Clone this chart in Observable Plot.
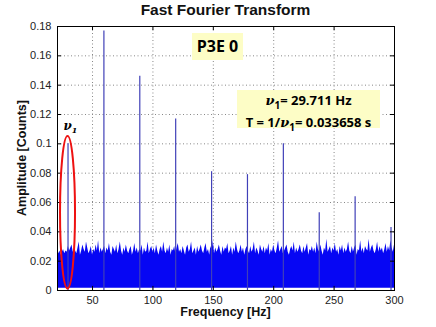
<!DOCTYPE html>
<html><head><meta charset="utf-8">
<script src="https://cdn.jsdelivr.net/npm/d3@7"></script>
<script src="https://cdn.jsdelivr.net/npm/@observablehq/plot@0.6"></script>
<style>
body{margin:0;background:#fff;font-family:"Liberation Sans",Arial,sans-serif}
#wrap{position:relative;width:436px;height:327px;overflow:hidden}
.ov{position:absolute;white-space:nowrap}
.title{left:57px;width:337px;top:1px;text-align:center;font-weight:bold;font-size:15.5px;color:#111}
.xl{left:57px;width:337px;top:305px;text-align:center;font-weight:bold;font-size:12.5px;line-height:14px;color:#111}
.yl{left:22px;top:158px;transform:translate(-50%,-50%) rotate(-90deg);font-weight:bold;font-size:12.5px;color:#111}
.box{background:#fdfdc6;font-family:"Open Sans","DejaVu Sans",sans-serif;font-weight:bold;color:#000;text-align:center}
.nu{font-family:"DejaVu Serif",serif;font-style:italic}
</style></head><body><div id="wrap"></div>
<script>
// harmonic peaks (Hz, amplitude)
const peakFreq = [29.711, 59.42, 89.13, 118.84, 148.56, 178.27, 207.98, 237.69, 267.40, 297.11];
const peakAmp  = [0.100, 0.177, 0.146, 0.117, 0.081, 0.079, 0.100, 0.053, 0.064, 0.043];
// noise floor envelope, one value per Hz from 21 Hz to 300 Hz (thousandths of counts)
const noiseStart = 21;
const noiseAmp = [
26,25,27,24,26,28,25,27,26,30, 27,29,31,26,28,27,25,29,33,24,
27,31,28,26,33,29,25,27,30,24, 28,26,31,27,34,25,29,26,28,30,
25,29,27,32,26,24,30,28,26,31, 25,28,33,27,24,29,26,31,27,25,
28,30,24,27,32,26,29,25,28,27, 31,24,29,26,27,33,25,28,30,26,
29,25,31,27,24,28,30,26,33,27, 25,29,26,31,24,28,27,30,25,29,
32,26,28,25,30,27,24,29,31,26, 28,33,25,27,29,24,30,26,28,31,
27,25,29,32,26,28,24,30,27,34, 25,29,26,28,31,27,24,30,26,29,
28,32,25,27,30,24,29,26,33,28, 25,27,31,26,29,24,28,30,27,25,
30,26,28,33,25,29,27,24,31,28, 26,30,25,29,27,32,24,28,26,31,
27,25,29,34,26,28,30,25,27,29, 31,26,24,28,30,27,33,25,29,26,
28,31,27,25,30,26,29,32,24,28, 27,30,26,29,25,33,28,26,31,27,
24,29,27,35,26,28,30,25,29,27, 32,26,28,24,30,27,31,25,29,26,
28,33,27,25,30,26,29,31,24,28, 27,34,26,29,25,30,28,27,35,26,
29,31,27,25,28,33,26,30,27,29, 25,28,32,26,30,27,34,29,26,31
];
const xTicks = [50, 100, 150, 200, 250, 300];
const yTicks = [0, 0.02, 0.04, 0.06, 0.08, 0.1, 0.12, 0.14, 0.16, 0.18];
const titleText = "Fast Fourier Transform";
const xLabel = "Frequency [Hz]";
const yLabel = "Amplitude [Counts]";

const noise = noiseAmp.map((a, i) => ({f: noiseStart + i, a: a / 1000}));
const peaks = peakFreq.map((f, i) => ({f, a: peakAmp[i]}));

const xDom = [21, 300], yDom = [0, 0.18];
const tx = 3.3, ty = 0.0028;

const plot = Plot.plot({
  width: 436, height: 327,
  marginLeft: 57, marginRight: 42, marginTop: 26, marginBottom: 37,
  style: {fontFamily: '"Liberation Sans", Arial, sans-serif', fontSize: "11px", color: "#222", background: "#fff"},
  x: {domain: xDom, ticks: xTicks, label: null},
  y: {domain: yDom, ticks: yTicks, label: null},
  marks: [
    Plot.gridX(xTicks.filter(d => d < 300), {stroke: "#888", strokeOpacity: 1, strokeDasharray: "1,2.5"}),
    Plot.gridY(yTicks.filter(d => d > 0 && d < 0.18), {stroke: "#888", strokeOpacity: 1, strokeDasharray: "1,2.5"}),
    Plot.areaY(noise, {x: "f", y1: 0.0015, y2: "a", fill: "#0606f4"}),
    Plot.ruleX(peaks, {x: "f", y1: 0, y2: "a", stroke: "#4040b8", strokeWidth: 1.2}),
    Plot.ruleX(xTicks, {x: d => d, y1: yDom[0], y2: yDom[0] + ty, stroke: "#000"}),
    Plot.ruleX(xTicks, {x: d => d, y1: yDom[1] - ty, y2: yDom[1], stroke: "#000"}),
    Plot.ruleY(yTicks, {y: d => d, x1: xDom[0], x2: xDom[0] + tx, stroke: "#000"}),
    Plot.ruleY(yTicks, {y: d => d, x1: xDom[1] - tx, x2: xDom[1], stroke: "#000"}),
    Plot.axisX(xTicks, {tickSize: 0, tickPadding: 6, fill: "#222"}),
    Plot.axisY(yTicks, {tickSize: 0, tickPadding: 6, fill: "#222", tickFormat: d => String(+d.toFixed(2))}),
    Plot.frame({stroke: "#000", strokeWidth: 1})
  ]
});

const wrap = document.getElementById("wrap");
wrap.appendChild(plot);

// red ellipse around the fundamental, placed through the scales
const xs = plot.scale("x"), ys = plot.scale("y");
const svg = d3.select(plot);
const cx = xs.apply(peakFreq[0]);
const yTop = ys.apply(peakAmp[0] + 0.005), yBot = ys.apply(0.001);
svg.append("ellipse")
  .attr("cx", cx).attr("cy", (yTop + yBot) / 2)
  .attr("rx", 7.5).attr("ry", (yBot - yTop) / 2)
  .attr("fill", "none").attr("stroke", "#ee1111").attr("stroke-width", 2);

function ov(cls, html, style) {
  const d = document.createElement("div");
  d.className = "ov " + cls;
  d.innerHTML = html;
  if (style) d.setAttribute("style", style);
  wrap.appendChild(d);
  return d;
}
ov("title", titleText);
ov("xl", xLabel);
ov("yl", yLabel);
ov("nu", "<b>ν<sub style='font-size:8px'>1</sub></b>",
   `left:${cx - 4}px;top:${yTop - 17}px;font-size:12px;`);
ov("box", "P3E 0", "left:192px;top:33px;width:51px;height:27px;line-height:27px;font-size:16px;");
ov("box",
  `<span class="nu">ν</span><sub style="font-size:10px">1</sub>= ${peakFreq[0].toFixed(3)} Hz<br>T = 1/<span class="nu">ν</span><sub style="font-size:10px">1</sub>= ${(1/peakFreq[0]).toFixed(6)} s`,
  "left:237px;top:90px;width:143px;height:38px;font-size:13px;line-height:17px;padding-top:2px;box-sizing:border-box;");
</script></body></html>
